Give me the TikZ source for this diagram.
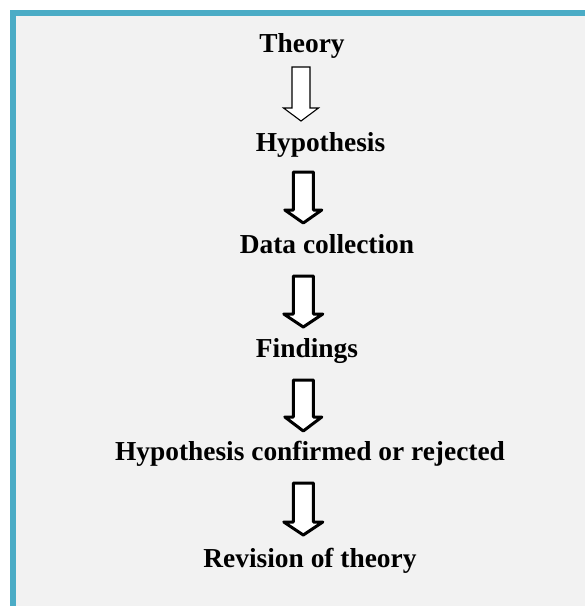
\documentclass[tikz,border=0pt]{standalone}
\usepackage{fontspec}
\setmainfont{Liberation Serif}
\usepackage{xcolor}
\usetikzlibrary{positioning}
\definecolor{FlowBorder}{RGB}{75, 172, 198}
\definecolor{FlowPanel}{RGB}{242, 242, 242}
\definecolor{FlowText}{RGB}{0, 0, 0}

\tikzset{
  steplabel/.style={anchor=base, inner sep=0pt, text=FlowText,
    font=\fontsize{27.4}{32}\selectfont\bfseries},
  thinarrow/.style={draw=black, fill=white, line width=1.1pt, line join=miter},
  thickarrow/.style={draw=black, fill=white, line width=3pt, line join=round}
}

% block arrow pointing down: style, x, top, head base, tip, shaft half, head half
\newcommand{\downblock}[7]{%
  \draw[#1] (#2-#6,#3) -- (#2+#6,#3) -- (#2+#6,#4) -- (#2+#7,#4) -- (#2,#5)
    -- (#2-#7,#4) -- (#2-#6,#4) -- cycle;}

\begin{document}
\begin{tikzpicture}[x=1pt, y=-1pt]
    \useasboundingbox (0,0) rectangle (585,606);
    % panel with top and left rule
    \fill[white] (0,0) rectangle (585,606);
    \fill[FlowBorder] (10,10) rectangle (585,606);
    \fill[FlowPanel] (16,16) rectangle (585,606);

    \node[steplabel] (theory)   at (302,52)    {Theory};
    \node[steplabel] (hyp)      at (320.5,151) {Hypothesis};
    \node[steplabel] (data)     at (327,253)   {Data collection};
    \node[steplabel] (find)     at (307,357)   {Findings};
    \node[steplabel] (confirm)  at (310,460)   {Hypothesis confirmed or rejected};
    \node[steplabel] (revision) at (310,567)   {Revision of theory};

    \downblock{thinarrow}{301}{67}{108}{121}{9}{17.5}
    \downblock{thickarrow}{303.3}{172}{210}{223}{10}{18.5}
    \downblock{thickarrow}{303.3}{276}{314}{327}{10}{19.5}
    \downblock{thickarrow}{303.3}{380}{417}{431}{10}{18.5}
    \downblock{thickarrow}{303.3}{483}{522}{535}{10}{19.5}
  \end{tikzpicture}
\end{document}
